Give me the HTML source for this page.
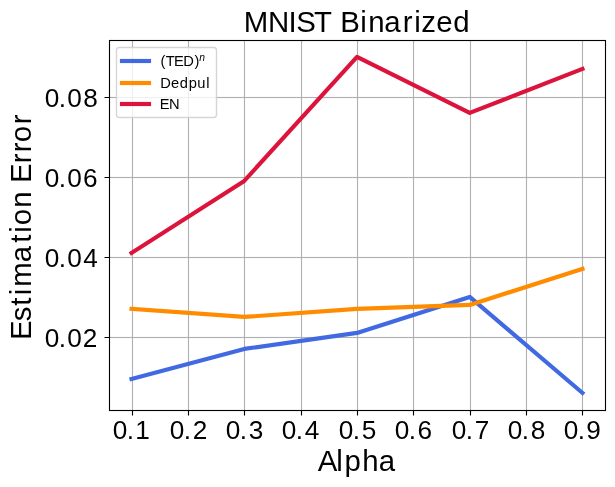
<!DOCTYPE html>
<html lang="en">
<head>
<meta charset="utf-8">
<title>MNIST Binarized</title>
<style>
  html, body { margin: 0; padding: 0; background: #ffffff; }
  body { width: 615px; height: 487px; overflow: hidden; }
  svg { display: block; }
  text { font-family: "Liberation Sans", sans-serif; fill: #000000; }
  .title, .axlabel { font-size: 29.4px; }
  .tick { font-size: 26.2px; }
  .leg { font-size: 14.7px; }
</style>
</head>
<body>
<svg width="615" height="487" viewBox="0 0 615 487">
  <rect x="0" y="0" width="615" height="487" fill="#ffffff"/>

  <!-- grid -->
  <g stroke="#b0b0b0" stroke-width="1.11" fill="none">
    <path d="M132.5 40.5V410.5 M188.5 40.5V410.5 M244.5 40.5V410.5 M301.5 40.5V410.5 M357.5 40.5V410.5 M413.5 40.5V410.5 M470.5 40.5V410.5 M526.5 40.5V410.5 M582.5 40.5V410.5"/>
  </g>
  <g fill="#b0b0b0">
    <rect x="109.5" y="97" width="496" height="1"/><rect x="109.5" y="177" width="496" height="1"/><rect x="109.5" y="257" width="496" height="1"/><rect x="109.5" y="337" width="496" height="1"/>
  </g>
  <g fill="#b0b0b0" fill-opacity="0.06">
    <rect x="109.5" y="96" width="496" height="3"/><rect x="109.5" y="176" width="496" height="3"/><rect x="109.5" y="256" width="496" height="3"/><rect x="109.5" y="336" width="496" height="3"/>
  </g>

  <!-- data series -->
  <g fill="none" stroke-width="4.167" stroke-linejoin="round" stroke-linecap="square">
    <polyline stroke="#4169e1" points="131.54,378.92 244.27,348.92 357.00,332.92 469.73,296.92 582.45,392.92"/>
    <polyline stroke="#ff8c00" points="131.54,308.92 244.27,316.92 357.00,308.92 469.73,304.92 582.45,268.92"/>
    <polyline stroke="#dc143c" points="131.54,252.92 244.27,180.92 357.00,56.92 469.73,112.92 582.45,68.92"/>
  </g>

  <!-- ticks -->
  <g stroke="#000000" stroke-width="1.11" fill="none">
    <path d="M132.5 410V415.5 M188.5 410V415.5 M244.5 410V415.5 M301.5 410V415.5 M357.5 410V415.5 M413.5 410V415.5 M470.5 410V415.5 M526.5 410V415.5 M582.5 410V415.5"/>
    <path d="M104.5 97.5H110 M104.5 177.5H110 M104.5 257.5H110 M104.5 337.5H110"/>
  </g>

  <!-- axes frame -->
  <rect x="109.5" y="40.5" width="496" height="370" fill="none" stroke="#000000" stroke-width="1.11"/>

  <!-- legend -->
  <rect x="116.5" y="47.5" width="100" height="70" rx="2.78" ry="2.78" fill="#ffffff" fill-opacity="0.8" stroke="#cccccc" stroke-opacity="0.8" stroke-width="1.39"/>
  <g>
    <rect fill="#4169e1" x="119.92" y="59" width="31.16" height="4"/><rect fill="#4169e1" fill-opacity="0.085" x="119.92" y="58" width="31.16" height="6"/>
    <rect fill="#ff8c00" x="119.92" y="81" width="31.16" height="4"/><rect fill="#ff8c00" fill-opacity="0.085" x="119.92" y="80" width="31.16" height="6"/>
    <rect fill="#dc143c" x="119.92" y="102" width="31.16" height="4"/><rect fill="#dc143c" fill-opacity="0.085" x="119.92" y="101" width="31.16" height="6"/>
  </g>

  <!-- text (grouped at ~full opacity so glyphs use greyscale antialiasing) -->
  <g opacity="0.999">
  <text class="leg" x="160.51 165.79 173.94 183.33 194.6" y="66">(TED)<tspan x="199.28" dy="-5.3" font-size="10.3px" font-style="italic">n</tspan></text>
  <text class="leg" x="160.27 171.12 179.68 188.66 197.34 206.15" y="88">Dedpul</text>
  <text class="leg" x="159.86 169.07" y="109">EN</text>

  <!-- title -->
  <text class="title" x="243.75 267.88 288.42 296.2 314.03 331.99 340.26 360.24 368.3 384.2 402.87 414.24 421.29 436.35 453.15" y="32">MNIST Binarized</text>

  <!-- axis labels -->
  <text class="axlabel" x="317.7 336.23 344.49 362.26 378.7" y="471">Alpha</text>
  <text class="axlabel" transform="translate(31,0) rotate(-90)" x="-339.88 -321.23 -305.7 -295.26 -286.75 -262.3 -242.7 -232.76 -225.18 -207.7 -191.35 -182.88 -163.13 -152.13 -142.18 -124.13" y="0">Estimation Error</text>

  <!-- x tick labels -->
  <g class="tick">
    <text x="112.71 126.86 135.36" y="439">0.1</text>
    <text x="169.71 183.86 192.71" y="439">0.2</text>
    <text x="225.71 239.86 248.79" y="439">0.3</text>
    <text x="281.71 295.86 304.8" y="439">0.4</text>
    <text x="338.71 352.86 361.74" y="439">0.5</text>
    <text x="394.71 408.86 417.62" y="439">0.6</text>
    <text x="451.71 465.86 474.7" y="439">0.7</text>
    <text x="507.71 521.86 530.71" y="439">0.8</text>
    <text x="563.71 577.86 586.22" y="439">0.9</text>
  </g>

  <!-- y tick labels -->
  <g class="tick">
    <text x="44.71 58.86 67.21 83.21" y="107.0">0.08</text>
    <text x="44.71 58.86 67.21 83.12" y="187.0">0.06</text>
    <text x="44.71 58.86 67.21 83.3" y="267.0">0.04</text>
    <text x="44.71 58.86 67.21 82.71" y="347.0">0.02</text>
  </g>
  </g>
</svg>
</body>
</html>
